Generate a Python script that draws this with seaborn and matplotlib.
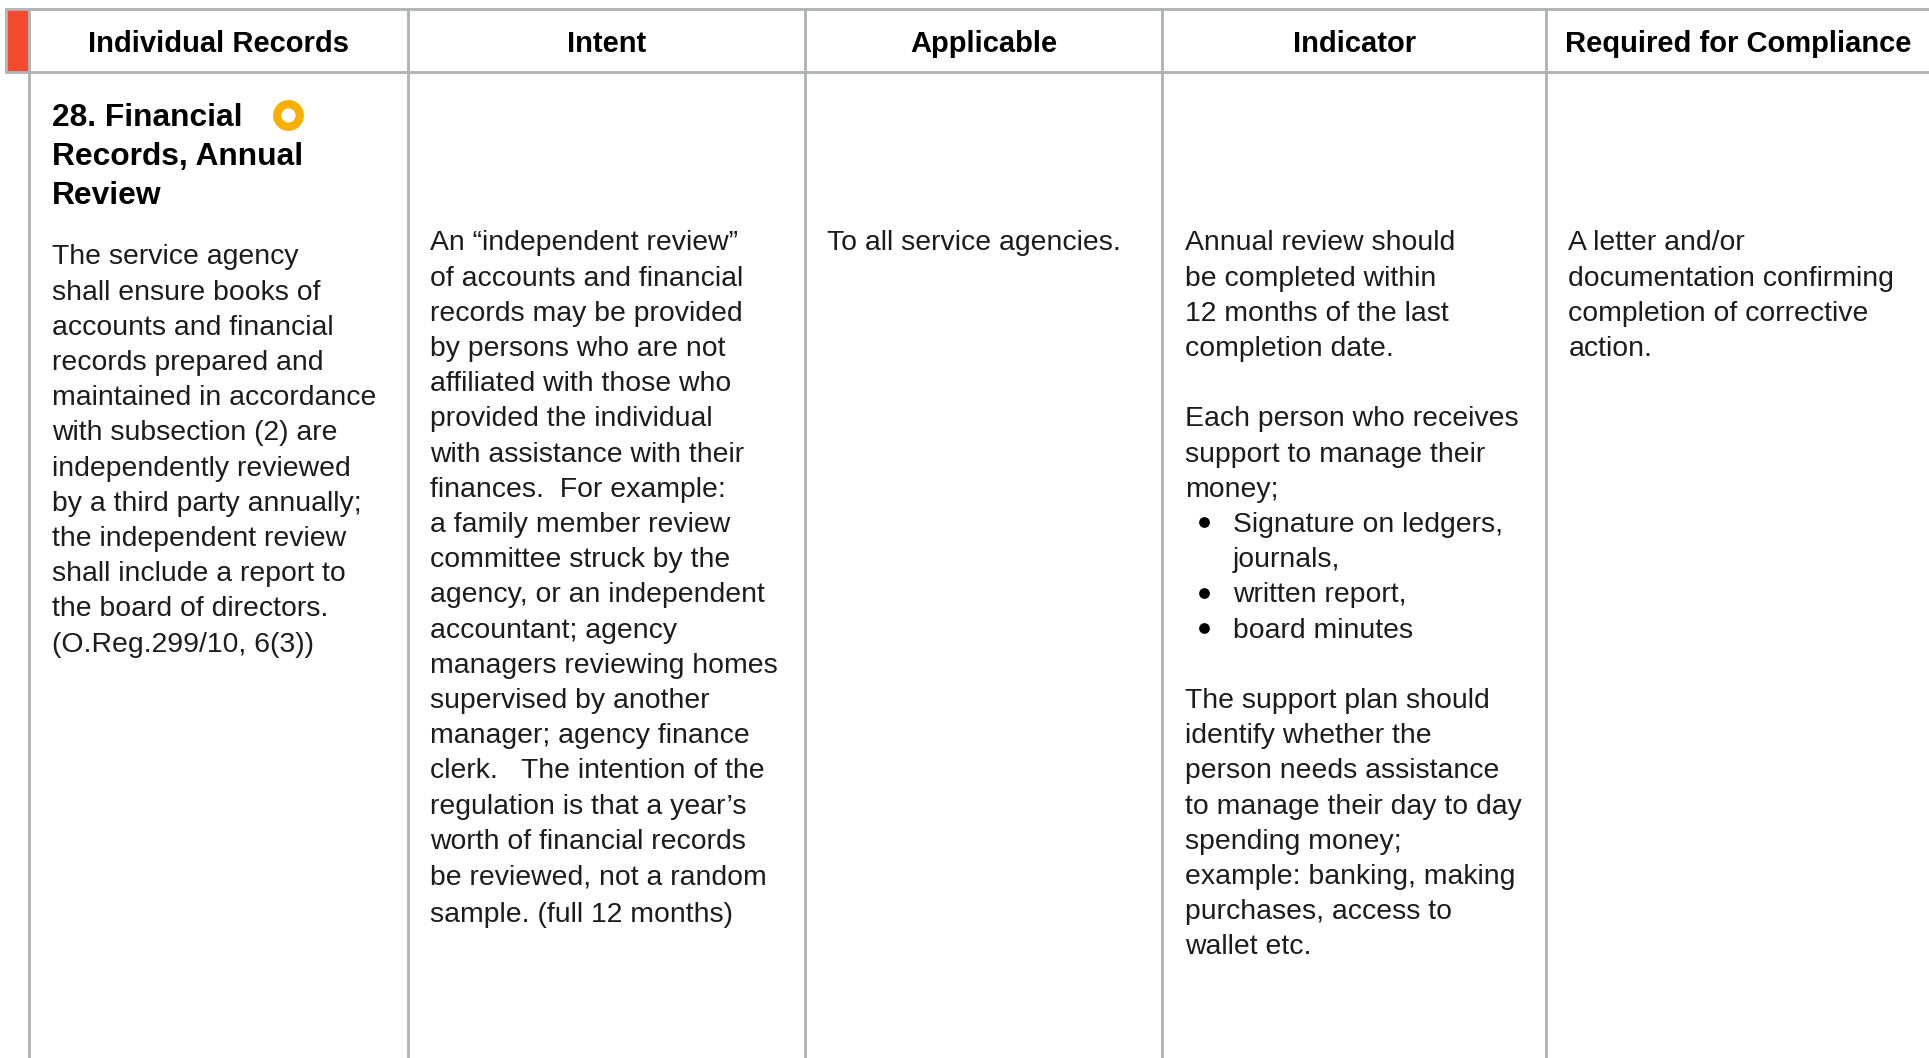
import pandas as pd
import matplotlib
matplotlib.use("Agg")
import matplotlib.pyplot as plt
import seaborn as sns

# === TEXT CONTENT ===
headers = ["Individual Records", "Intent", "Applicable", "Indicator", "Required for Compliance"]
heading_lines = ["28. Financial", "Records, Annual", "Review"]
records_lines = [
    "The service agency", "shall ensure books of", "accounts and financial", "records prepared and",
    "maintained in accordance", "with subsection (2) are", "independently reviewed", "by a third party annually;",
    "the independent review", "shall include a report to", "the board of directors.", "(O.Reg.299/10, 6(3))",
]
intent_lines = [
    "An “independent review”", "of accounts and financial", "records may be provided", "by persons who are not",
    "affiliated with those who", "provided the individual", "with assistance with their", "finances.  For example:",
    "a family member review", "committee struck by the", "agency, or an independent", "accountant; agency",
    "managers reviewing homes", "supervised by another", "manager; agency finance", "clerk.   The intention of the",
    "regulation is that a year’s", "worth of financial records", "be reviewed, not a random", "sample. (full 12 months)",
]
applicable_lines = ["To all service agencies."]
indicator_lines = [
    "Annual review should", "be completed within", "12 months of the last", "completion date.", "",
    "Each person who receives", "support to manage their", "money;", "", "", "", "", "",
    "The support plan should", "identify whether the", "person needs assistance", "to manage their day to day",
    "spending money;", "example: banking, making", "purchases, access to", "wallet etc.",
]
bullet_lines = ["Signature on ledgers,", "journals,", "written report,", "board minutes"]
bullet_flags = [True, False, True, True]
compliance_lines = ["A letter and/or", "documentation confirming", "completion of corrective", "action."]

# === LAYOUT (pixels) ===
W, H = 1929, 1058
column_rules = [29, 408, 805, 1162, 1546]
top_y, header_y = 9, 72
gray = "#b1b3b7"
pitch = 35.2
body_y = 250.5
body_font = dict(fontsize=20.4, color="#1c1c1c", family=["Liberation Sans", "DejaVu Sans"])

sns.set_theme(style="white")
plt.rcParams["font.family"] = ["Liberation Sans", "DejaVu Sans"]

fig = plt.figure(figsize=(W / 100, H / 100), dpi=100)
ax = fig.add_axes([0, 0, 1, 1])

# red tab
ax.fill_between([6, 29], top_y, header_y, color="#f44a30", linewidth=0)

# grid rules, one unit per rule
rules = [(6, top_y, W, top_y), (6, header_y, W, header_y), (6, top_y, 6, header_y)]
rules += [(x, top_y, x, H) for x in column_rules]
rows = []
for n, (x0, y0, x1, y1) in enumerate(rules):
    rows.append({"rule": n, "x": x0, "y": y0})
    rows.append({"rule": n, "x": x1, "y": y1})
sns.lineplot(data=pd.DataFrame(rows), x="x", y="y", units="rule", estimator=None, sort=False,
             color=gray, linewidth=2.1, ax=ax, legend=False)

# status ring
sns.scatterplot(x=[288], y=[114.5], s=262, facecolor="white", edgecolor="#f7b000", linewidth=6.0, ax=ax, legend=False)

# header row
for x, label in zip([218, 606.5, 983.5, 1354.5, 1738], headers):
    ax.text(x, 52, label, ha="center", va="baseline", fontsize=21, fontweight="bold", color="black")

# section heading
for i, line in enumerate(heading_lines):
    ax.text(52, 126.5 + i * 38.8, line, va="baseline", fontsize=22.9, fontweight="bold", color="black")

def draw_lines(x, first_y, lines):
    for i, line in enumerate(lines):
        if line:
            ax.text(x, first_y + i * pitch, line, va="baseline", **body_font)

draw_lines(52, 264.5, records_lines)
draw_lines(430, body_y, intent_lines[:-1])
ax.text(430, body_y + 19 * pitch + 3, intent_lines[-1], va="baseline", **body_font)
draw_lines(827, body_y, applicable_lines)
draw_lines(1185, body_y, indicator_lines)
draw_lines(1568.5, body_y, compliance_lines)

# bullet list inside the indicator column
bullet_ys = [body_y + (8 + i) * pitch for i in range(len(bullet_lines))]
draw_lines(1233, bullet_ys[0], bullet_lines)
dots = [y - 10 for y, flag in zip(bullet_ys, bullet_flags) if flag]
sns.scatterplot(x=[1204] * len(dots), y=dots, s=60, color="black", linewidth=0, ax=ax, legend=False)

ax.set_xlim(0, W)
ax.set_ylim(H, 0)
ax.axis("off")
fig.savefig("out.png", dpi=100, facecolor="white")
